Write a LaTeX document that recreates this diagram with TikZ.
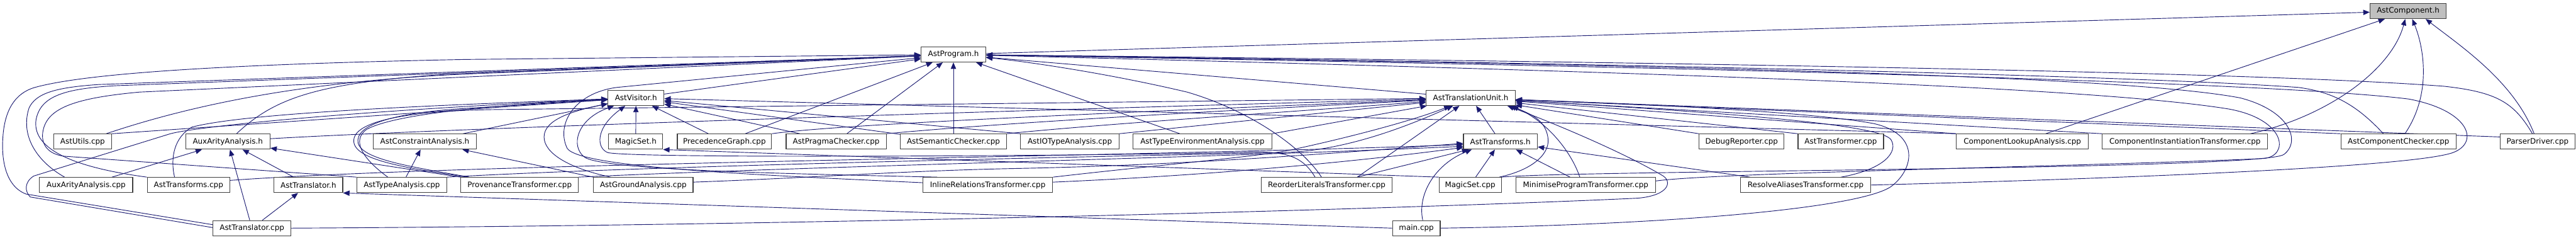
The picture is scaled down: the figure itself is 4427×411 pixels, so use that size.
\documentclass[tikz,border=0pt]{standalone}
\usepackage{fontspec}
\setmainfont{DejaVu Sans}
\usetikzlibrary{arrows.meta}
\definecolor{edgeblue}{RGB}{25,25,112}
\definecolor{boxgray}{RGB}{191,191,191}
\definecolor{boxline}{RGB}{64,64,64}
\pgfdeclarelayer{bg}
\pgfsetlayers{bg,main}
\begin{document}
\begin{tikzpicture}[x=1pt,y=-1pt,
  box/.style={draw=boxline,line width=1.2pt,fill=white,minimum height=26pt,inner sep=0pt,font=\fontsize{12.9}{15}\selectfont},
  e/.style={draw=edgeblue,line width=1pt,-{Triangle[length=11pt,width=9pt]}}]
\useasboundingbox (0,0) rectangle (4427,411);
% row 0-2
\node[box,minimum width=131pt,fill=boxgray] (C) at (4138.5,19) {AstComponent.h};
\node[box,minimum width=111pt] (P) at (1638.5,93.5) {AstProgram.h};
\node[box,minimum width=96pt] (V) at (1093,168) {AstVisitor.h};
\node[box,minimum width=153pt] (TU) at (2527.5,168) {AstTranslationUnit.h};
% row 3
\node[box,minimum width=100pt] (U) at (142,243) {AstUtils.cpp};
\node[box,minimum width=145pt] (AA) at (391.5,243) {AuxArityAnalysis.h};
\node[box,minimum width=178pt] (CA) at (730,243) {AstConstraintAnalysis.h};
\node[box,minimum width=93pt] (MS) at (1092.5,243) {MagicSet.h};
\node[box,minimum width=162pt] (PG) at (1245,243) {PrecedenceGraph.cpp};
\node[box,minimum width=172pt] (PC) at (1437,243) {AstPragmaChecker.cpp};
\node[box,minimum width=183pt] (SC) at (1638.5,243) {AstSemanticChecker.cpp};
\node[box,minimum width=169pt] (IO) at (1838.5,243) {AstIOTypeAnalysis.cpp};
\node[box,minimum width=239pt] (TEA) at (2066.5,243) {AstTypeEnvironmentAnalysis.cpp};
\node[box,minimum width=127pt] (TS) at (2578.5,243) {AstTransforms.h};
\node[box,minimum width=146pt] (DR) at (2993,243) {DebugReporter.cpp};
\node[box,minimum width=147pt] (ATC) at (3163.5,243) {AstTransformer.cpp};
\node[box,minimum width=227pt] (CLA) at (3475.5,243) {ComponentLookupAnalysis.cpp};
\node[box,minimum width=284pt] (CIT) at (3755,243) {ComponentInstantiationTransformer.cpp};
\node[box,minimum width=198pt] (ACC) at (4122,243) {AstComponentChecker.cpp};
\node[box,minimum width=128pt] (PD) at (4361,243) {ParserDriver.cpp};
% row 4
\node[box,minimum width=160pt] (AAC) at (148,317.5) {AuxArityAnalysis.cpp};
\node[box,minimum width=142pt] (TSC) at (324,317.5) {AstTransforms.cpp};
\node[box,minimum width=118pt] (TR) at (530,317.5) {AstTranslator.h};
\node[box,minimum width=155pt] (TA) at (690.5,317.5) {AstTypeAnalysis.cpp};
\node[box,minimum width=202pt] (PT) at (893,317.5) {ProvenanceTransformer.cpp};
\node[box,minimum width=171pt] (GA) at (1105.5,317.5) {AstGroundAnalysis.cpp};
\node[box,minimum width=223pt] (IRT) at (1697.5,317.5) {InlineRelationsTransformer.cpp};
\node[box,minimum width=224pt] (RLT) at (2280,317.5) {ReorderLiteralsTransformer.cpp};
\node[box,minimum width=107pt] (MSC) at (2526.5,317.5) {MagicSet.cpp};
\node[box,minimum width=240pt] (MPT) at (2725,317.5) {MinimiseProgramTransformer.cpp};
\node[box,minimum width=224pt] (RAT) at (3103,317.5) {ResolveAliasesTransformer.cpp};
% row 5
\node[box,minimum width=134pt] (TRC) at (433,391.5) {AstTranslator.cpp};
\node[box,minimum width=82pt] (MAIN) at (2434,391.5) {main.cpp};

\begin{pgfonlayer}{bg}
% ---- into AstComponent.h
\draw[e] (P) -- (C);
\draw[e] (CLA) -- (C);
\draw[e] ([xshift=-30pt]CIT.north east) .. controls (4000,200) and (4110,120) .. ([xshift=-5pt]C.south);
\draw[e] ([xshift=11pt]ACC.north) .. controls (4180,160) and (4165,80) .. ([xshift=7pt]C.south);
\draw[e] ([xshift=-6pt]PD.north) .. controls (4320,140) and (4230,80) .. ([xshift=-36pt]C.south east);
% ---- into AstProgram.h
\draw[e] (V) -- (P);
\draw[e] (TU) -- (P);
\draw[e] (PG) -- (P);
\draw[e] (PC) -- (P);
\draw[e] (SC) -- (P);
\draw[e] (TEA) -- (P);
\draw[e] ([xshift=-10pt]U.north east) .. controls (330,180) and (520,140) .. (800,127) -- (P);
\draw[e] ([xshift=15pt]AA.north) .. controls (470,170) and (540,143) .. (760,128) -- (P);
\draw[e] ([xshift=-37pt]AAC.north) .. controls (60,275) and (35,230) .. (50,185) .. controls (62,160) and (95,150) .. (170,145) -- (P);
\draw[e] ([yshift=6pt]TRC.west) -- (45,333) .. controls (10,320) and (2,275) .. (5,235) .. controls (8,190) and (25,160) .. (60,150) .. controls (150,125) and (400,110) .. (800,102) -- (P);
\draw[e] (TSC.north west) .. controls (110,285) and (55,250) .. (62,205) .. controls (70,165) and (110,152) .. (200,147) -- (P);
\draw[e] (TA.north west) -- (110,268) .. controls (80,264) and (68,245) .. (75,220) .. controls (85,185) and (130,168) .. (240,158) -- (P);
\draw[e] ([yshift=4pt]IRT.west) .. controls (1300,300) and (1000,288) .. (975,255) .. controls (955,215) and (985,160) .. (1060,150) -- (P);
\draw[e] ([xshift=-9pt]RLT.north) .. controls (2240,255) and (2150,190) .. (2040,158) .. controls (1900,125) and (1760,105) .. (P);
\draw[e] ([xshift=-9pt]PD.north) .. controls (4320,175) and (4290,158) .. (4200,148) .. controls (3900,125) and (3000,108) .. (P);
\draw[e] ([xshift=-26pt]ACC.north) .. controls (4050,180) and (4010,158) .. (3950,150) .. controls (3700,132) and (2900,110) .. (P);
\draw[e] (RAT.east) .. controls (3700,305) and (4150,285) .. (4215,262) .. controls (4262,245) and (4245,190) .. (4140,170) .. controls (3900,140) and (2900,115) .. (P);
\draw[e] (MSC.north east) .. controls (2700,292) and (3890,292) .. (3925,265) .. controls (3955,242) and (3935,190) .. (3850,168) .. controls (3650,130) and (2900,112) .. (P);
\draw[e] ([yshift=7pt]MPT.east) .. controls (2950,296) and (3600,285) .. (3890,272) .. controls (3935,268) and (3930,205) .. (3830,187) .. controls (3600,150) and (2900,125) .. (P);
% ---- into AstVisitor.h
\draw[e] (U.north east) -- (V);
\draw[e] (CA) -- (V);
\draw[e] (MS) -- (V);
\draw[e] (PG) -- (V);
\draw[e] (PC) -- (V);
\draw[e] (SC) -- (V);
\draw[e] (IO.north west) -- (V);
\draw[e] (CLA.north west) -- (V);
\draw[e] ([yshift=1pt]TRC.west) -- (52,338) .. controls (42,328) and (42,312) .. (58,302) -- (291,230) .. controls (330,218) and (600,190) .. (V);
\draw[e] ([xshift=-24pt]TSC.north) .. controls (292,270) and (300,235) .. (330,218) .. controls (420,195) and (700,182) .. (V);
\draw[e] ([xshift=-24pt]TA.north) .. controls (620,270) and (605,240) .. (630,222) .. controls (680,195) and (850,180) .. (V);
\draw[e] ([xshift=15pt]PT.north west) .. controls (700,285) and (612,272) .. (615,240) .. controls (618,208) and (700,192) .. (800,186) -- (V);
\draw[e] ([xshift=30pt]GA.north west) .. controls (975,288) and (935,262) .. (935,235) .. controls (935,205) and (985,190) .. (V);
\draw[e] ([xshift=25pt]IRT.north west) .. controls (1350,298) and (1040,292) .. (1005,270) .. controls (980,252) and (990,205) .. (V);
\draw[e] ([xshift=-20pt]RLT.north) .. controls (2235,262) and (2200,258) .. (2120,262) .. controls (1800,268) and (1100,272) .. (1045,262) .. controls (1025,255) and (1022,220) .. (V);
% ---- into AstTranslationUnit.h
\draw[e] (TS) -- (TU);
\draw[e] ([yshift=5pt]AA.east) .. controls (700,224) and (1500,196) .. (TU);
\draw[e] (PG.north east) .. controls (1450,212) and (2000,190) .. (TU);
\draw[e] (PC.north east) .. controls (1750,208) and (2200,185) .. (TU);
\draw[e] (SC.north east) .. controls (1900,212) and (2250,190) .. (TU);
\draw[e] (IO.north east) -- (TU);
\draw[e] (TEA.north east) -- (TU);
\draw[e] (DR.north west) -- (TU);
\draw[e] (ATC.north west) -- (TU);
\draw[e] (CLA.north west) -- (TU);
\draw[e] (CIT.north west) -- (TU);
\draw[e] (ACC.north west) -- (TU);
\draw[e] ([yshift=8pt]PD.west) -- (TU);
\draw[e] ([xshift=12pt]PT.north west) .. controls (695,288) and (605,274) .. (608,240) .. controls (611,204) and (720,190) .. (850,188) -- (TU);
\draw[e] (TA.north east) .. controls (1100,285) and (1900,268) .. (2200,262) .. controls (2300,260) and (2400,225) .. (TU);
\draw[e] (IRT.north east) .. controls (2000,282) and (2150,270) .. (2215,258) .. controls (2300,240) and (2420,210) .. (TU);
\draw[e] ([xshift=-60pt]RLT.north east) -- (TU);
\draw[e] ([xshift=-4pt]MSC.north east) .. controls (2640,290) and (2665,260) .. (2660,235) .. controls (2655,205) and (2630,195) .. ([xshift=-10pt]TU.south east);
\draw[e] ([xshift=-10pt]MPT.north) .. controls (2700,260) and (2660,210) .. ([xshift=-6pt]TU.south east);
\draw[e] ([xshift=61pt]RAT.north) .. controls (3240,290) and (3262,260) .. (3250,240) .. controls (3235,215) and (3000,195) .. (TU);
\draw[e] (TRC.east) .. controls (1500,386) and (2500,355) .. (2815,340) .. controls (2870,335) and (2875,310) .. (2855,300) .. controls (2790,262) and (2680,215) .. ([xshift=-14pt]TU.south east);
\draw[e] (MAIN.east) .. controls (2900,385) and (3200,355) .. (3250,320) .. controls (3290,290) and (3300,230) .. (3220,212) .. controls (3100,190) and (2800,178) .. (TU);
% ---- into AstTransforms.h
\draw[e] ([yshift=8pt]TSC.east) .. controls (800,280) and (2000,268) .. ([yshift=-5pt]TS.west);
\draw[e] (PT.north east) .. controls (1400,285) and (2100,270) .. ([yshift=-8pt]TS.west);
\draw[e] ([yshift=5pt]GA.east) .. controls (1400,305) and (1550,293) .. (1750,289) .. controls (2050,283) and (2300,262) .. ([yshift=-3pt]TS.west);
\draw[e] ([yshift=5pt]IRT.east) .. controls (2100,300) and (2350,275) .. ([yshift=-10pt]TS.west);
\draw[e] ([xshift=-60pt]RLT.north east) -- (TS);
\draw[e] (MSC) -- (TS);
\draw[e] (MPT) -- (TS);
\draw[e] (RAT) -- (TS);
\draw[e] ([xshift=11pt]MAIN.north) .. controls (2435,330) and (2470,280) .. ([xshift=15pt]TS.south west);
% ---- other headers
\draw[e] (AAC) -- (AA);
\draw[e] (TR) -- (AA);
\draw[e] (TRC) -- (AA);
\draw[e] (PT.north west) -- (AA);
\draw[e] (TA) -- (CA);
\draw[e] (GA.north west) -- (CA);
\draw[e] (MSC.north west) -- (MS.south east);
\draw[e] (TRC) -- (TR);
\draw[e] (MAIN.west) -- (TR.south east);
\end{pgfonlayer}
\end{tikzpicture}
\end{document}
